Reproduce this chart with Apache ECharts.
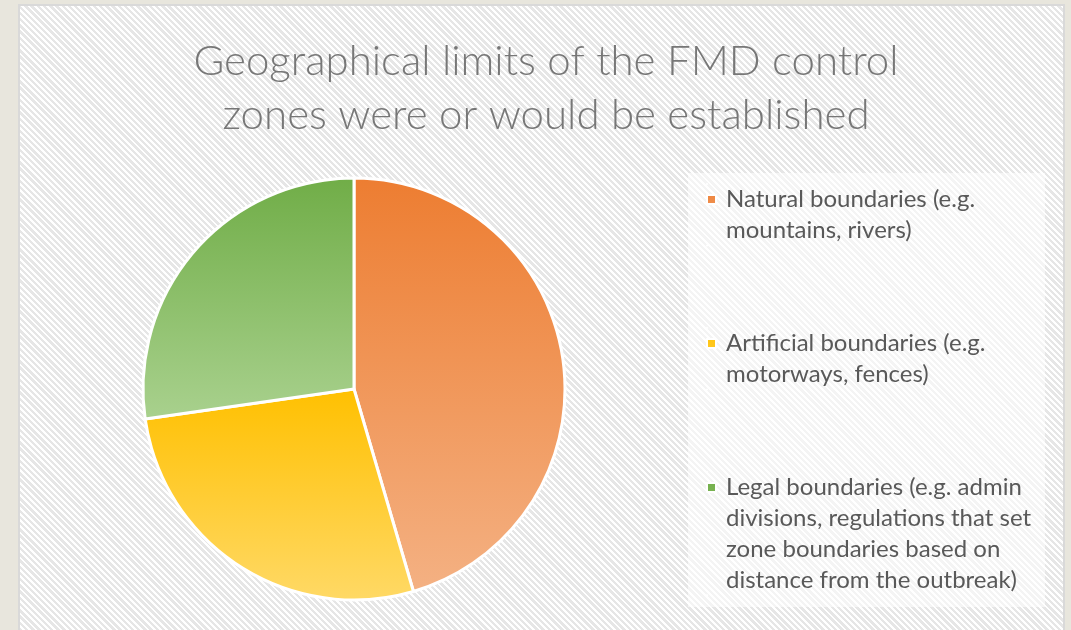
<!DOCTYPE html>
<html>
<head>
<meta charset="utf-8">
<script src="https://cdn.jsdelivr.net/npm/echarts@6/dist/echarts.min.js"></script>
<style>
  html, body { margin: 0; padding: 0; background: #e8e6dd; }
  #panel {
    position: absolute; left: 18px; top: 4px; width: 1043px; height: 640px;
    border: 2px solid #d9d9d9;
    background: repeating-linear-gradient(45deg, #ffffff 0px, #ffffff 2px, #e6e6e6 2px, #e6e6e6 4.4px);
  }
  #main { position: absolute; left: 0; top: 0; width: 1071px; height: 630px; }
</style>
</head>
<body>
<div id="panel"></div>
<div id="main"></div>
<script>
const titleText = 'Geographical limits of the FMD control\nzones were or would be established';
const categories = [
  'Natural boundaries (e.g.\nmountains, rivers)',
  'Artificial boundaries (e.g.\nmotorways, fences)',
  'Legal boundaries (e.g. admin\ndivisions, regulations that set\nzone boundaries based on\ndistance from the outbreak)'
];
const shares = [5, 3, 3];
const topColors = ['#ED7D31', '#FFC000', '#70AD47'];
const bottomColors = ['#F4B183', '#FFD966', '#A9D18E'];
const legendTops = [178, 322, 466];
const lineH = 30.8;

function grad(i) {
  return new echarts.graphic.LinearGradient(0, 0, 0, 1, [
    { offset: 0, color: topColors[i] },
    { offset: 1, color: bottomColors[i] }
  ]);
}

// icon with the square aligned to the first text line
function iconFor(lines) {
  const h = lines * lineH;
  return 'path://M0,11h9v9h-9z M0,0h0.01v0.01z M0,' + h + 'h0.01v0.01z';
}

const legends = categories.map((name, i) => {
  const lines = name.split('\n').length;
  return {
    left: 701,
    top: legendTops[i],
    orient: 'vertical',
    itemWidth: 9,
    itemHeight: lines * lineH,
    itemGap: 0,
    selectedMode: false,
    data: [{ name: name, icon: iconFor(lines) }],
    textStyle: { color: '#595959', fontSize: 24, fontFamily: 'Lato', lineHeight: lineH, padding: [0, 0, 0, 5] }
  };
});

const myChart = echarts.init(document.getElementById('main'));
const option = {
  backgroundColor: 'transparent',
  animation: false,
  title: {
    text: titleText,
    left: 541,
    textAlign: 'center',
    top: 29,
    textStyle: { color: '#777777', fontSize: 42, fontWeight: 300, fontFamily: 'Lato', lineHeight: 54 }
  },
  graphic: [{
    type: 'rect',
    silent: true,
    z: -1,
    shape: { x: 688, y: 173, width: 357, height: 434 },
    style: { fill: 'rgba(255,255,255,0.55)' }
  }],
  legend: legends,
  series: [{
    type: 'pie',
    center: [354, 389],
    radius: 211,
    startAngle: 90,
    clockwise: true,
    label: { show: false },
    labelLine: { show: false },
    itemStyle: { borderColor: '#ffffff', borderWidth: 3 },
    emphasis: { scale: false },
    data: categories.map((name, i) => ({
      name: name,
      value: shares[i],
      itemStyle: { color: grad(i) }
    }))
  }]
};
myChart.setOption(option);
</script>
</body>
</html>
